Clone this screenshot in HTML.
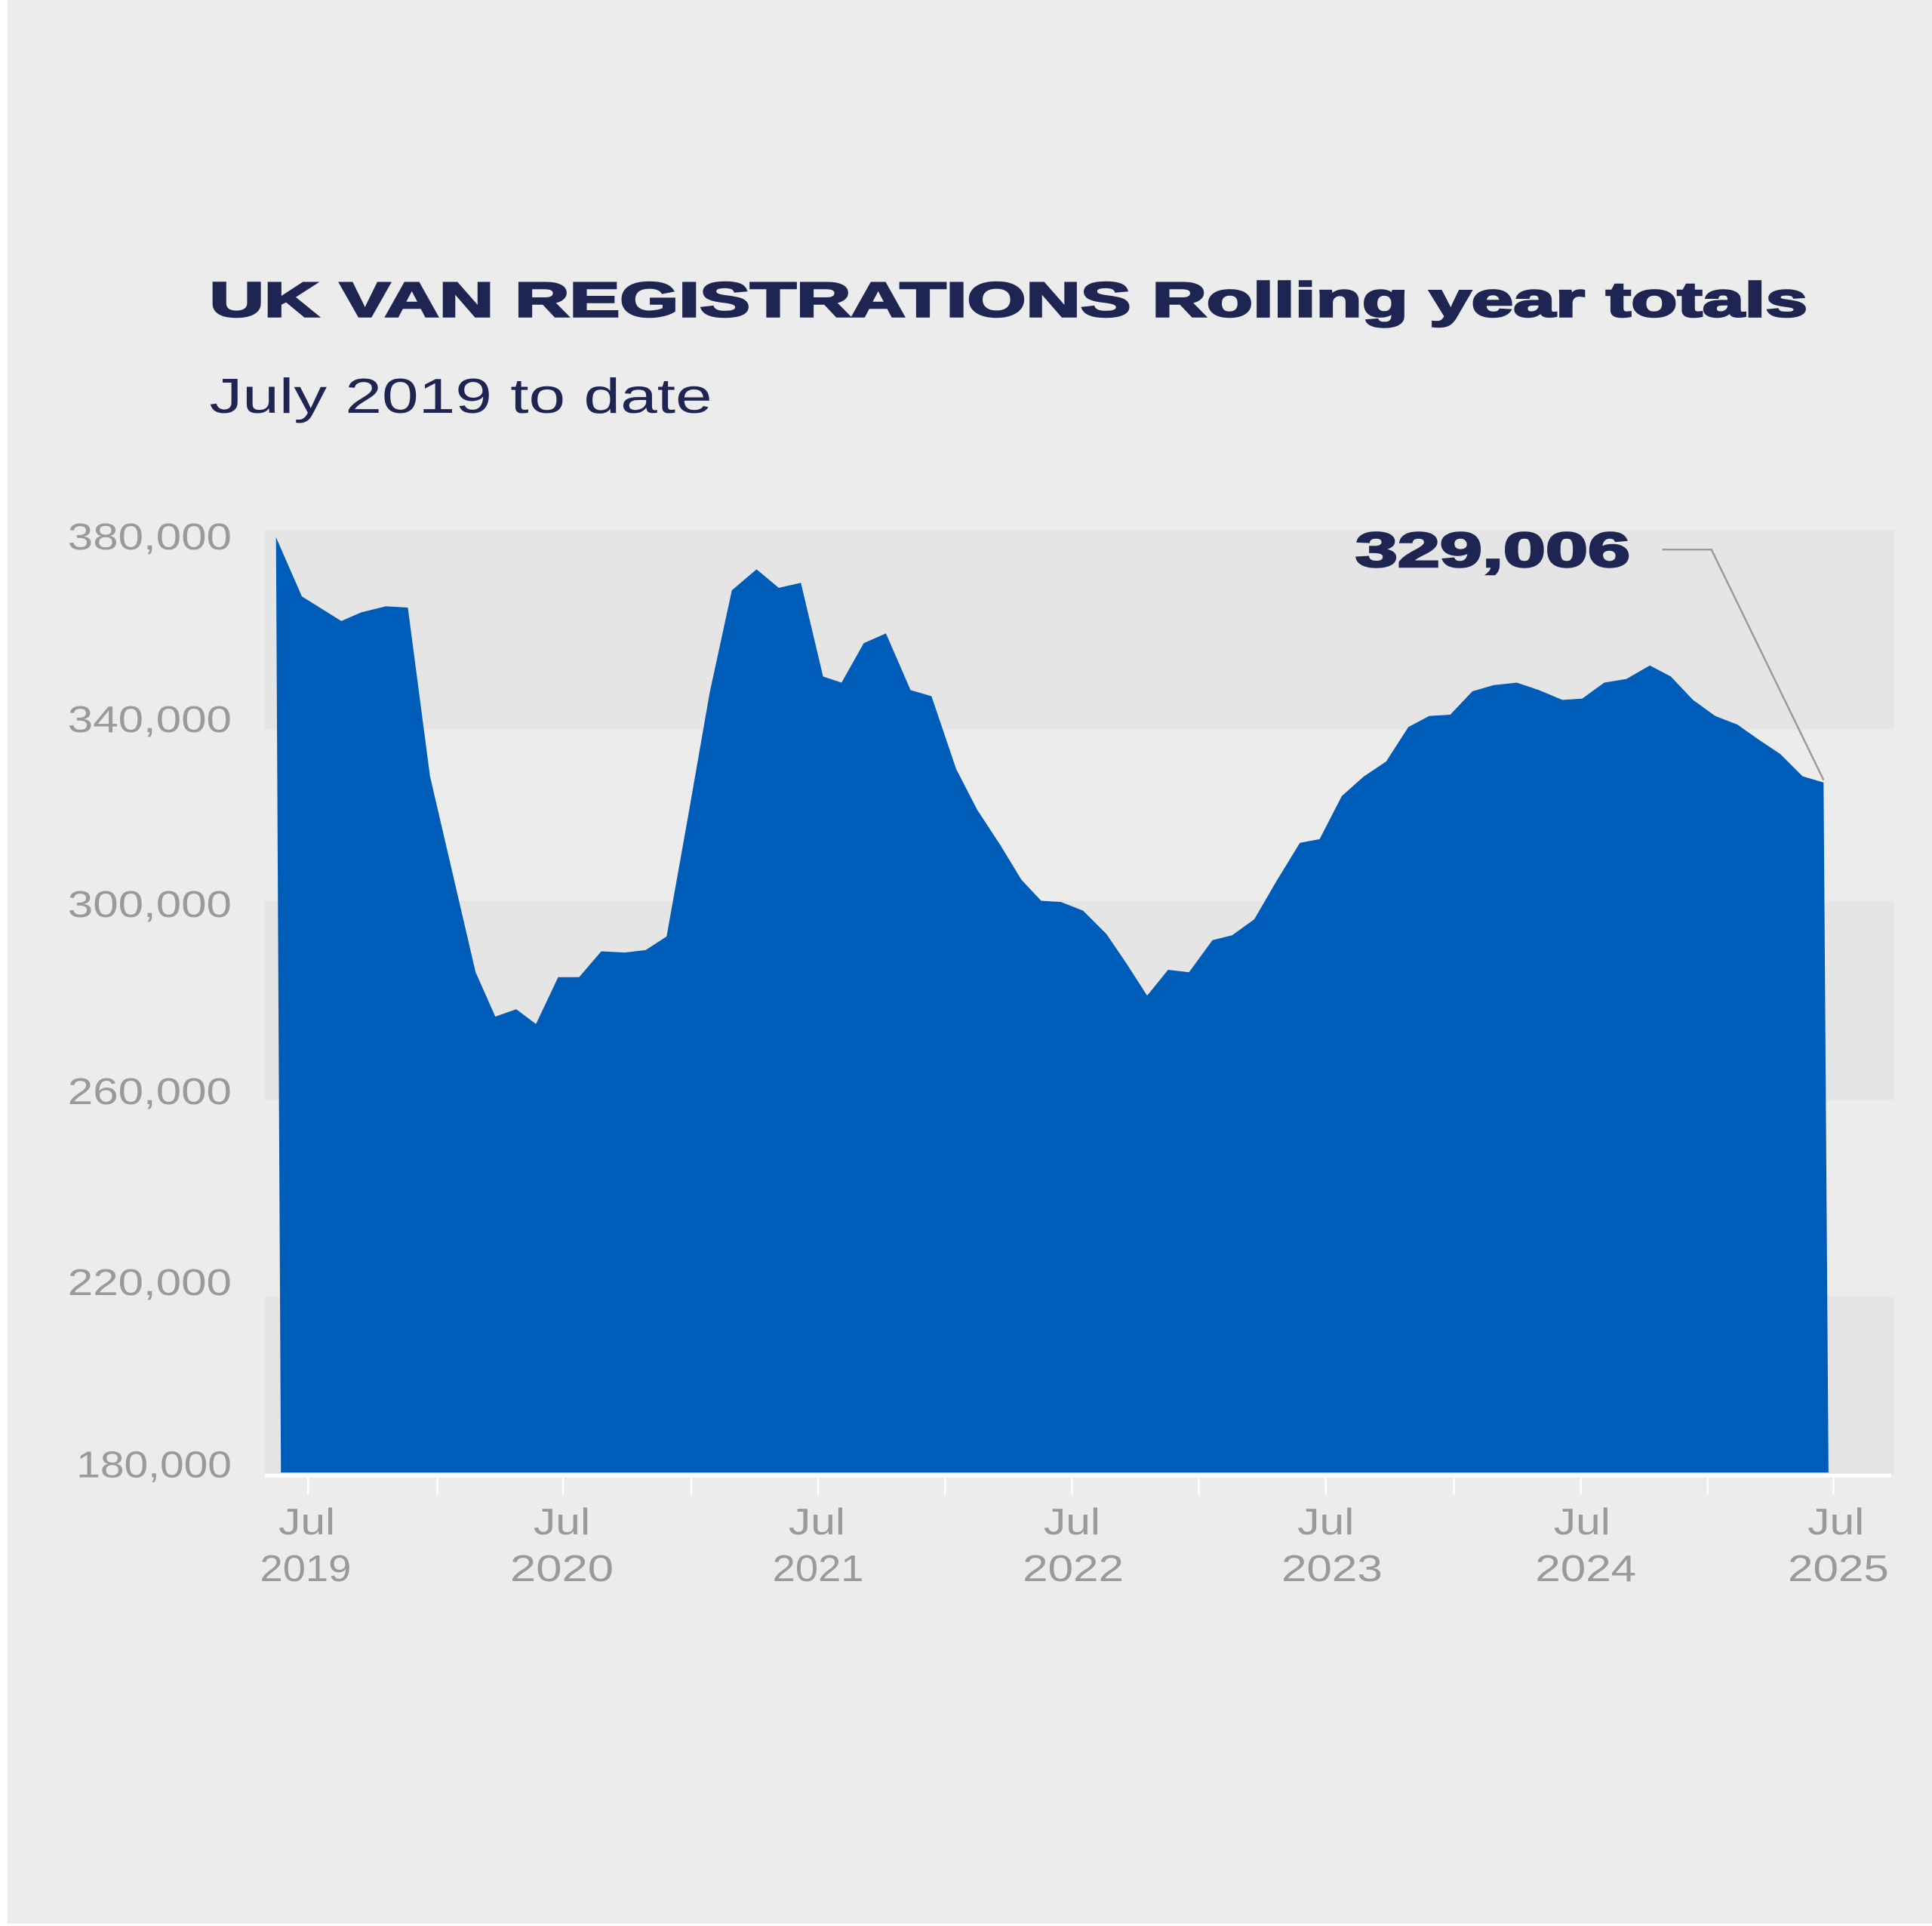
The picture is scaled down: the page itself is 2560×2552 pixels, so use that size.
<!DOCTYPE html>
<html><head><meta charset="utf-8"><style>
html,body{margin:0;padding:0;background:#ececec;}
svg{display:block;}
text{font-family:"Liberation Sans",sans-serif;}
</style></head><body>
<svg width="2560" height="2552" viewBox="0 0 1568 1563" preserveAspectRatio="none">
<rect x="0" y="0" width="1568" height="1563" fill="#ececec"/>
<rect x="0" y="0" width="6" height="1563" fill="#fff"/>
<rect x="0" y="1561" width="1568" height="2" fill="#fff"/>
<rect x="215" y="430" width="1322" height="162" fill="#e5e5e5"/>
<rect x="215" y="731" width="1322" height="162" fill="#e5e5e5"/>
<rect x="215" y="1052" width="1322" height="145" fill="#e5e5e5"/>
<text x="170" y="257" font-size="40" font-weight="bold" fill="#1e2552" textLength="1297" lengthAdjust="spacingAndGlyphs" stroke="#1e2552" stroke-width="1.5">UK VAN REGISTRATIONS Rolling year totals</text>
<text x="170" y="335" font-size="40" fill="#1e2552" textLength="408" lengthAdjust="spacingAndGlyphs">July 2019 to date</text>
<g font-size="30" fill="#9a999e">
<text x="55" y="446" textLength="133" lengthAdjust="spacingAndGlyphs">380,000</text>
<text x="55" y="594" textLength="133" lengthAdjust="spacingAndGlyphs">340,000</text>
<text x="55" y="744" textLength="133" lengthAdjust="spacingAndGlyphs">300,000</text>
<text x="55" y="896" textLength="133" lengthAdjust="spacingAndGlyphs">260,000</text>
<text x="55" y="1051" textLength="133" lengthAdjust="spacingAndGlyphs">220,000</text>
<text x="62" y="1199" textLength="126" lengthAdjust="spacingAndGlyphs">180,000</text>
</g>
<polygon fill="#005cb9" points="224,436 245,484 277,504 293,497 313,492 331,493 349,630 386,789 402,825 419,819 435,831 453,793 470,793 488,772 507,773 524,771 541,760 558,665 576,562 594,479 614,462 632,477 650,473 668,549 683,554 701,522 719,514 739,560 756,565 776,624 793,657 812,686 829,714 845,731 861,732 879,739 898,758 915,783 931,808 948,787 965,789 984,763 1000,759 1018,746 1036,715 1055,684 1071,681 1089,646 1107,630 1125,618 1143,590 1160,581 1177,580 1195,561 1212,556 1231,554 1249,560 1268,568 1284,567 1302,554 1320,551 1339,540 1356,549 1374,568 1392,581 1410,588 1427,600 1445,612 1463,630 1480,635 1484,1195 228,1195"/>
<rect x="215" y="1196" width="1320" height="3" fill="#fff"/>
<g stroke="#fff" stroke-width="1.5">
<line x1="250" y1="1198" x2="250" y2="1213"/><line x1="355" y1="1198" x2="355" y2="1213"/><line x1="457" y1="1198" x2="457" y2="1213"/><line x1="561" y1="1198" x2="561" y2="1213"/><line x1="664" y1="1198" x2="664" y2="1213"/><line x1="767" y1="1198" x2="767" y2="1213"/><line x1="870" y1="1198" x2="870" y2="1213"/><line x1="973" y1="1198" x2="973" y2="1213"/><line x1="1076" y1="1198" x2="1076" y2="1213"/><line x1="1180" y1="1198" x2="1180" y2="1213"/><line x1="1283" y1="1198" x2="1283" y2="1213"/><line x1="1386" y1="1198" x2="1386" y2="1213"/><line x1="1488" y1="1198" x2="1488" y2="1213"/>
</g>
<g font-size="30" fill="#9a999e">
<text x="226" y="1245" textLength="46" lengthAdjust="spacingAndGlyphs">Jul</text><text x="211" y="1283" textLength="74" lengthAdjust="spacingAndGlyphs">2019</text>
<text x="433" y="1245" textLength="46" lengthAdjust="spacingAndGlyphs">Jul</text><text x="414" y="1283" textLength="84" lengthAdjust="spacingAndGlyphs">2020</text>
<text x="640" y="1245" textLength="46" lengthAdjust="spacingAndGlyphs">Jul</text><text x="627" y="1283" textLength="74" lengthAdjust="spacingAndGlyphs">2021</text>
<text x="847" y="1245" textLength="46" lengthAdjust="spacingAndGlyphs">Jul</text><text x="830" y="1283" textLength="82" lengthAdjust="spacingAndGlyphs">2022</text>
<text x="1053" y="1245" textLength="46" lengthAdjust="spacingAndGlyphs">Jul</text><text x="1040" y="1283" textLength="82" lengthAdjust="spacingAndGlyphs">2023</text>
<text x="1261" y="1245" textLength="46" lengthAdjust="spacingAndGlyphs">Jul</text><text x="1246" y="1283" textLength="82" lengthAdjust="spacingAndGlyphs">2024</text>
<text x="1467" y="1245" textLength="46" lengthAdjust="spacingAndGlyphs">Jul</text><text x="1451" y="1283" textLength="82" lengthAdjust="spacingAndGlyphs">2025</text>
</g>
<text x="1100" y="460" font-size="40" font-weight="bold" fill="#1e2552" stroke="#1e2552" stroke-width="1.5" textLength="223" lengthAdjust="spacingAndGlyphs">329,006</text>
<polyline points="1349,446 1389,446 1480,633" fill="none" stroke="#9a999e" stroke-width="1.5"/>
</svg>
</body></html>
